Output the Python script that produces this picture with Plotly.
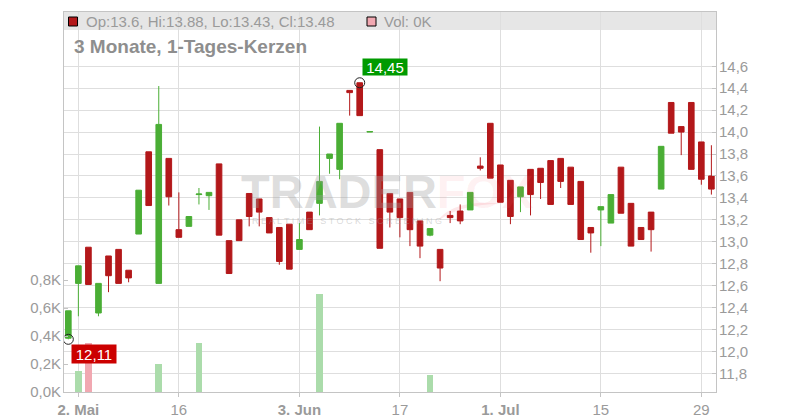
import plotly.graph_objects as go

# ---------------- data ----------------
dates = [
    "30.04.",
    "02.05.", "03.05.", "06.05.", "07.05.", "08.05.", "09.05.", "10.05.",
    "13.05.", "14.05.", "15.05.", "16.05.", "17.05.", "20.05.", "21.05.",
    "22.05.", "23.05.", "24.05.", "27.05.", "28.05.", "29.05.", "30.05.", "31.05.",
    "03.06.", "04.06.", "05.06.", "06.06.", "07.06.", "10.06.", "11.06.",
    "12.06.", "13.06.", "14.06.", "17.06.", "18.06.", "19.06.", "20.06.",
    "21.06.", "24.06.", "25.06.", "26.06.", "27.06.", "28.06.",
    "01.07.", "02.07.", "03.07.", "04.07.", "05.07.", "08.07.", "09.07.",
    "10.07.", "11.07.", "12.07.", "15.07.", "16.07.", "17.07.", "18.07.",
    "19.07.", "22.07.", "23.07.", "24.07.", "25.07.", "26.07.", "29.07.", "30.07.",
]

opens = [
    12.12, 12.62, 12.95, 12.35, 12.87, 12.93, 12.74, 13.07, 13.82, 12.62,
    13.76, 13.11, 13.14, 13.43, 13.42, 13.71, 13.01, 13.20, 13.44, 13.39,
    13.22, 13.13, 13.16, 12.93, 13.27, 13.35, 13.76, 13.66, 14.38, 14.45,
    14.00, 13.84, 13.44, 13.39, 13.45, 13.19, 13.06, 12.93, 13.24, 13.28,
    13.29, 13.69, 14.08, 13.70, 13.56, 13.41, 13.66, 13.67, 13.74, 13.76,
    13.68, 13.55, 13.13, 13.29, 13.17, 13.68, 13.35, 13.13, 13.27, 13.48,
    14.27, 14.05, 14.27, 13.91, 13.60,
]
highs = [
    12.37, 12.78, 12.95, 12.62, 12.87, 12.93, 12.74, 13.47, 13.82, 14.42,
    13.76, 13.45, 13.23, 13.49, 13.45, 13.71, 13.01, 13.20, 13.44, 13.39,
    13.22, 13.13, 13.16, 13.17, 13.27, 14.05, 13.80, 14.08, 14.38, 14.45,
    14.005, 13.84, 13.44, 13.39, 13.45, 13.19, 13.12, 12.93, 13.28, 13.34,
    13.45, 13.77, 14.08, 13.70, 13.56, 13.50, 13.66, 13.67, 13.74, 13.76,
    13.68, 13.55, 13.13, 13.32, 13.43, 13.68, 13.35, 13.13, 13.27, 13.87,
    14.27, 14.05, 14.27, 13.91, 13.88,
]
lows = [
    12.11, 12.32, 12.61, 12.32, 12.54, 12.62, 12.63, 13.07, 13.33, 12.62,
    13.33, 13.04, 13.14, 13.34, 13.29, 13.06, 12.71, 13.01, 13.14, 13.14,
    13.08, 12.79, 12.75, 12.93, 13.11, 13.24, 13.62, 13.57, 14.15, 14.15,
    14.00, 12.94, 13.13, 13.04, 12.96, 12.85, 13.05, 12.64, 13.17, 13.16,
    13.29, 13.65, 13.58, 13.36, 13.16, 13.27, 13.24, 13.39, 13.34, 13.49,
    13.34, 13.02, 12.90, 12.96, 13.17, 13.26, 12.96, 13.02, 12.91, 13.48,
    13.99, 13.79, 13.66, 13.52, 13.43,
]
closes = [
    12.37, 12.78, 12.61, 12.62, 12.69, 12.62, 12.67, 13.47, 13.33, 14.07,
    13.41, 13.04, 13.23, 13.435, 13.45, 13.06, 12.71, 13.01, 13.23, 13.27,
    13.08, 12.82, 12.75, 13.02, 13.11, 13.55, 13.80, 14.08, 14.36, 14.15,
    14.005, 12.94, 13.27, 13.22, 13.11, 12.96, 13.12, 12.76, 13.22, 13.19,
    13.45, 13.67, 13.58, 13.36, 13.23, 13.50, 13.43, 13.54, 13.34, 13.55,
    13.34, 13.02, 13.08, 13.32, 13.43, 13.26, 12.96, 13.02, 13.11, 13.87,
    13.99, 14.00, 13.66, 13.57, 13.48,
]
volumes = [
    0, 150, 350, 0, 0, 0, 0, 0, 0, 200,
    0, 0, 0, 350, 0, 0, 0, 0, 0, 0,
    0, 0, 0, 0, 0, 700, 0, 0, 0, 0,
    0, 0, 0, 0, 0, 0, 120, 0, 0, 0,
    0, 0, 0, 0, 0, 0, 0, 0, 0, 0,
    0, 0, 0, 0, 0, 0, 0, 0, 0, 0,
    0, 0, 0, 0, 0,
]

x_tick_dates = ["02.05.", "16.05.", "03.06.", "17.06.", "01.07.", "15.07.", "29.07."]
x_tick_text = ["<b>2. Mai</b>", "16", "<b>3. Jun</b>", "17", "<b>1. Jul</b>", "15", "29"]
price_ticks = [11.8, 12.0, 12.2, 12.4, 12.6, 12.8, 13.0, 13.2, 13.4, 13.6, 13.8, 14.0, 14.2, 14.4, 14.6]
vol_ticks = [0, 200, 400, 600, 800]
vol_tick_text = ["0,0K", "0,2K", "0,4K", "0,6K", "0,8K"]

title_text = "3 Monate, 1-Tages-Kerzen"

# ---------------- styling ----------------
RED = "#b3181a"
GREEN = "#4aae35"
VOL_UP = "#abdcab"
VOL_DOWN = "#f1a8b1"
GRID = "#dedede"
FRAME = "#c4c4c4"
TXT = "#9a9a9a"
FONT = "Liberation Sans, Arial, sans-serif"
WM_GRAY = "rgba(160,160,160,0.36)"
WM_PINK = "rgba(245,110,125,0.28)"

# plot frame in screen pixels; the page body adds an 8px offset
OFF = 8
L, R, T, B = 64, 716, 12, 392
W, H = 800, 420


def px_x(px):
    return (px - L) / (R - L)


def px_y(py):
    return (B - py) / (B - T)


vol_colors = [VOL_UP if c >= o else VOL_DOWN for o, c in zip(opens, closes)]

fig = go.Figure()

fig.add_trace(go.Bar(
    x=dates, y=volumes, marker=dict(color=vol_colors, line=dict(width=0)),
    width=0.66, yaxis="y", xaxis="x", hoverinfo="skip",
))

fig.add_trace(go.Candlestick(
    x=dates, open=opens, high=highs, low=lows, close=closes,
    yaxis="y2", xaxis="x",
    increasing=dict(line=dict(color=GREEN, width=1), fillcolor=GREEN),
    decreasing=dict(line=dict(color=RED, width=1), fillcolor=RED),
    whiskerwidth=0,
))

# min / max markers
i_min = lows.index(min(lows))
i_max = highs.index(max(highs))
fig.add_trace(go.Scatter(
    x=[dates[i_min], dates[i_max]], y=[lows[i_min], highs[i_max]],
    yaxis="y2", xaxis="x", mode="markers",
    marker=dict(symbol="circle-open", size=10, color="#222222", line=dict(width=1)),
    hoverinfo="skip",
))

fmt = lambda v: f"{v:.2f}".replace(".", ",")

annotations = [
    dict(x=dates[i_min], y=lows[i_min], xref="x", yref="y2", text=fmt(lows[i_min]),
         showarrow=False, xanchor="left", yanchor="top", xshift=3, yshift=-5,
         bgcolor="#cc0000", font=dict(family=FONT, size=15, color="white"),
         width=44, height=18, borderpad=0),
    dict(x=dates[i_max], y=highs[i_max], xref="x", yref="y2", text=fmt(highs[i_max]),
         showarrow=False, xanchor="left", yanchor="bottom", xshift=2, yshift=7,
         bgcolor="#009a00", font=dict(family=FONT, size=15, color="white"),
         width=44, height=16, borderpad=0),
    # header legend
    dict(x=px_x(84), y=px_y(21.5), xref="paper", yref="paper", xanchor="left", yanchor="middle",
         text=f"Op:{opens[-1]}, Hi:{highs[-1]}, Lo:{lows[-1]}, Cl:{closes[-1]}",
         showarrow=False, font=dict(family=FONT, size=15, color=TXT)),
    dict(x=px_x(382), y=px_y(21.5), xref="paper", yref="paper", xanchor="left", yanchor="middle",
         text=f"Vol: {volumes[-1] // 1000}K",
         showarrow=False, font=dict(family=FONT, size=15, color=TXT)),
    dict(x=px_x(72), y=px_y(47), xref="paper", yref="paper", xanchor="left", yanchor="middle",
         text=f"<b>{title_text}</b>", showarrow=False,
         font=dict(family=FONT, size=19, color="#8e8e8e")),
    # watermark
    dict(x=px_x(239), y=px_y(191), xref="paper", yref="paper", xanchor="left", yanchor="middle",
         text=f"<b>TRADER<span style='color:{WM_PINK}'>FOX</span></b>",
         showarrow=False, height=34, font=dict(family=FONT, size=47, color=WM_GRAY)),
    dict(x=px_x(250), y=px_y(221), xref="paper", yref="paper", xanchor="left", yanchor="middle",
         text="R E A L T I M E   S T O C K   S C R E E N I N G",
         showarrow=False, height=10, font=dict(family=FONT, size=9, color="rgba(160,160,160,0.4)")),
]

# watermark swoosh (crescent under the "O")
swoosh_px = [(436, 223), (452, 198), (505, 204), (458, 203)]
p = [(px_x(a), px_y(b)) for a, b in swoosh_px]
swoosh_path = (f"M {p[0][0]} {p[0][1]} Q {p[1][0]} {p[1][1]} {p[2][0]} {p[2][1]} "
               f"Q {p[3][0]} {p[3][1]} {p[0][0]} {p[0][1]} Z")

shapes = [
    dict(type="rect", xref="paper", yref="paper", x0=0, x1=1, y0=px_y(30), y1=1,
         fillcolor="#e6e6e6", line=dict(width=0), layer="below"),
    dict(type="path", xref="paper", yref="paper", path=swoosh_path,
         fillcolor="rgba(245,110,125,0.16)", line=dict(width=0), layer="below"),
    dict(type="rect", xref="paper", yref="paper", x0=px_x(68.5), x1=px_x(77.5),
         y0=px_y(26), y1=px_y(17), fillcolor=RED, line=dict(color="black", width=1)),
    dict(type="rect", xref="paper", yref="paper", x0=px_x(367), x1=px_x(376),
         y0=px_y(26), y1=px_y(17), fillcolor=VOL_DOWN, line=dict(color="black", width=1)),
]

price_span = 109.64  # px per price unit
vol_span = 140 / 1000  # px per volume unit
p_low = 14.6 - (B - 66.3) / price_span
p_high = p_low + (B - T) / price_span

fig.update_layout(
    template="none",
    width=W, height=H,
    margin=dict(l=L - OFF, r=W - (R - OFF), t=T - OFF, b=H - (B - OFF), pad=0, autoexpand=False),
    paper_bgcolor="white", plot_bgcolor="white",
    showlegend=False,
    boxgap=0, boxgroupgap=0.44,
    bargap=0,
    xaxis=dict(
        type="category", range=[-0.43, len(dates) - 0.54], automargin=False,
        tickmode="array", tickvals=x_tick_dates, ticktext=x_tick_text,
        showgrid=True, gridcolor=GRID, gridwidth=1,
        ticks="outside", ticklen=4, tickcolor=FRAME,
        showline=True, linecolor=FRAME, linewidth=1, mirror=True,
        tickfont=dict(family=FONT, size=15, color=TXT),
        rangeslider=dict(visible=False), fixedrange=True,
    ),
    yaxis=dict(
        range=[0, (B - T) / vol_span], side="left", automargin=False,
        tickmode="array", tickvals=vol_ticks, ticktext=vol_tick_text,
        showgrid=False, zeroline=False,
        ticks="inside", ticklen=4, tickcolor=FRAME,
        showline=True, linecolor=FRAME, linewidth=1,
        tickfont=dict(family=FONT, size=15, color=TXT),
        ticklabelstandoff=-1,
    ),
    yaxis2=dict(
        range=[p_low, p_high], side="right", overlaying="y", automargin=False,
        tickmode="array", tickvals=price_ticks,
        ticktext=[f"{v:.1f}".replace(".", ",") for v in price_ticks],
        showgrid=True, gridcolor=GRID, gridwidth=1, zeroline=False,
        ticks="inside", ticklen=4, tickcolor=FRAME,
        showline=True, linecolor=FRAME, linewidth=1,
        tickfont=dict(family=FONT, size=15, color=TXT),
        ticklabelstandoff=-1,
    ),
    annotations=annotations,
    shapes=shapes,
)

fig.write_html("out.html")
